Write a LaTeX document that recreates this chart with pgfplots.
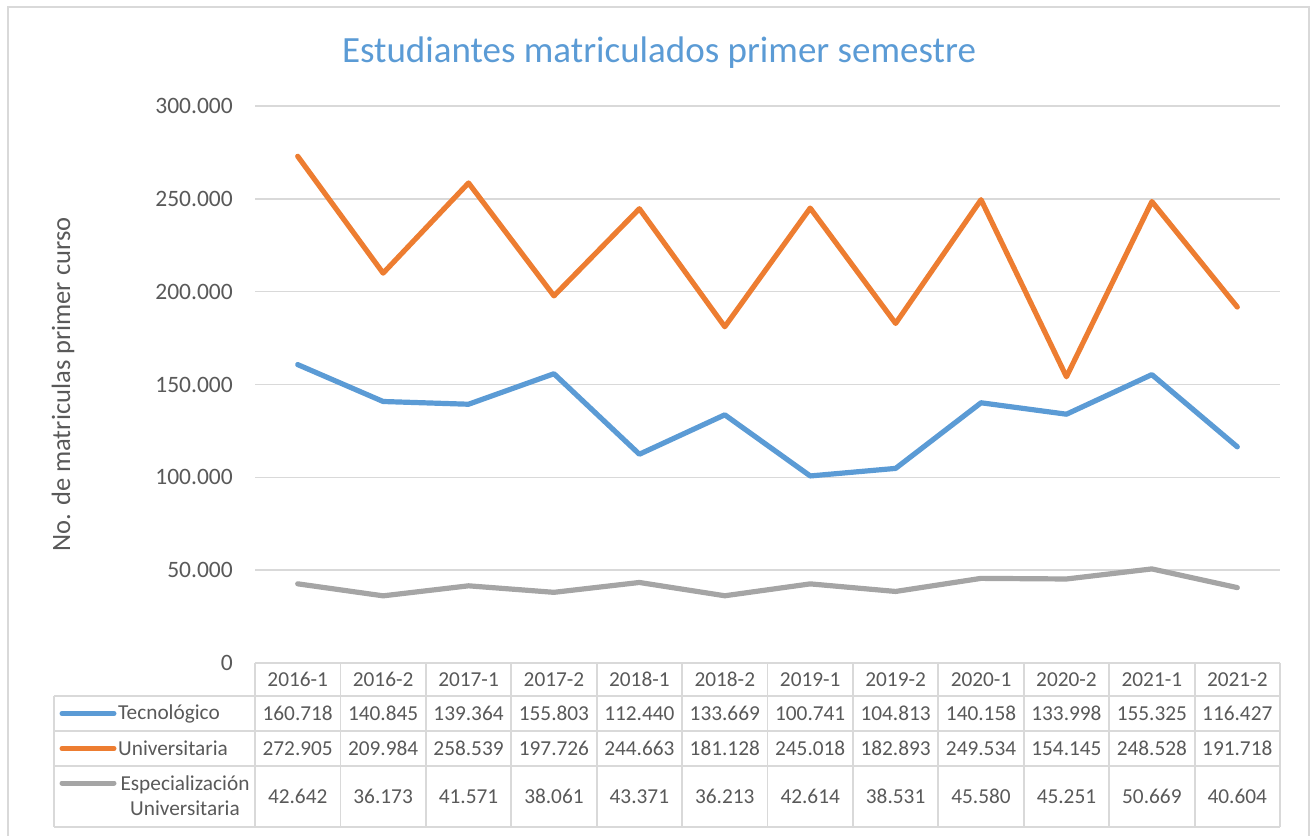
\documentclass[border=0pt]{standalone}
\usepackage{fontspec}
\setmainfont{Carlito}
\usepackage{pgfplots}
\usepackage{pgfplotstable}
\pgfplotsset{compat=1.18}
\definecolor{cblue}{RGB}{91,155,213}
\definecolor{corange}{RGB}{237,125,49}
\definecolor{cgray}{RGB}{165,165,165}
\definecolor{txt}{RGB}{89,89,89}
\definecolor{gridgray}{RGB}{217,217,217}
\definecolor{titleblue}{RGB}{91,155,213}

\pgfplotstableread{
x tec uni esp
0 160718 272905 42642
1 140845 209984 36173
2 139364 258539 41571
3 155803 197726 38061
4 112440 244663 43371
5 133669 181128 36213
6 100741 245018 42614
7 104813 182893 38531
8 140158 249534 45580
9 133998 154145 45251
10 155325 248528 50669
11 116427 191718 40604
}\datatable

\newcommand{\tabfont}{\fontsize{21.3}{25}\selectfont}
\newcommand{\tickfont}{\fontsize{23.5}{28}\selectfont}

\begin{document}
\begin{tikzpicture}[x=1pt,y=1pt]
\useasboundingbox (0,0) rectangle (1311,835);
% outer frame
\draw[gridgray, line width=1.8pt] (8,-10) -- (8,828) -- (1309,828) -- (1309,-10);

\begin{axis}[
  at={(255pt,172pt)}, anchor=south west,
  scale only axis, width=1025pt, height=557pt,
  xmin=-0.5, xmax=11.5, ymin=0, ymax=300000,
  clip=false,
  axis line style={draw=none},
  major tick length=0pt,
  xtick={0,...,11},
  xticklabels={2016-1,2016-2,2017-1,2017-2,2018-1,2018-2,2019-1,2019-2,2020-1,2020-2,2021-1,2021-2},
  ytick={0,50000,100000,150000,200000,250000,300000},
  scaled y ticks=false,
  /pgf/number format/.cd, fixed, precision=0, 1000 sep={.}, assume math mode=true,
  /pgfplots/.cd,
  ymajorgrids,
  grid style={color=gridgray, line width=1.4pt},
  yticklabel style={font=\tickfont, text=txt, anchor=east, inner sep=0pt, xshift=-22pt},
  xticklabel style={font=\tabfont, text=txt, anchor=base, inner sep=0pt, yshift=-23.2pt},
  every axis y label/.style={at={(rel axis cs:0,0.5)}, xshift=-192pt, rotate=90, anchor=center},
  ylabel={\fontsize{26.5}{30}\selectfont\color{txt}No. de matriculas primer curso},
  every node near coord/.append style={anchor=base, inner sep=0pt, font=\tabfont, text=txt},
]
\addplot[cblue, line width=5.2pt, line cap=round, line join=round, no markers] table[x=x, y=tec] {\datatable};
\addplot[corange, line width=5.2pt, line cap=round, line join=round, no markers] table[x=x, y=uni] {\datatable};
\addplot[cgray, line width=5.2pt, line cap=round, line join=round, no markers] table[x=x, y=esp] {\datatable};
% data table values
\addplot[draw=none, no markers, nodes near coords, point meta=\thisrow{tec}] table[x=x, y expr=-30829] {\datatable};
\addplot[draw=none, no markers, nodes near coords, point meta=\thisrow{uni}] table[x=x, y expr=-49680] {\datatable};
\addplot[draw=none, no markers, nodes near coords, point meta=\thisrow{esp}] table[x=x, y expr=-75533] {\datatable};
\end{axis}

% title
\node[anchor=base, text=titleblue, font=\fontsize{37}{44}\selectfont] at (659,772) {Estudiantes matriculados primer semestre};

% table grid
\begin{scope}[gridgray, line width=1.8pt]
\draw (255,172) -- (1280,172);
\draw (54,139) -- (1280,139);
\draw (54,104) -- (1280,104);
\draw (54,69) -- (1280,69);
\draw (54,8) -- (1280,8);
\draw (54,139) -- (54,8);
\foreach \k in {0,...,12} {
  \draw ({255+85.4167*\k},172) -- ({255+85.4167*\k},8);
}
\end{scope}

% row headers with legend keys
\draw[cblue, line width=5pt, line cap=round] (62,121.5) -- (114,121.5);
\draw[corange, line width=5pt, line cap=round] (62,86.5) -- (114,86.5);
\draw[cgray, line width=5pt, line cap=round] (62,52) -- (114,52);
\node[anchor=west, inner sep=0pt, font=\tabfont, text=txt] at (118,121.5) {Tecnológico};
\node[anchor=west, inner sep=0pt, font=\tabfont, text=txt] at (118,86.5) {Universitaria};
\node[align=center, inner sep=0pt, font=\tabfont, text=txt] at (185,39.5) {Especialización\\Universitaria};
\end{tikzpicture}
\end{document}
